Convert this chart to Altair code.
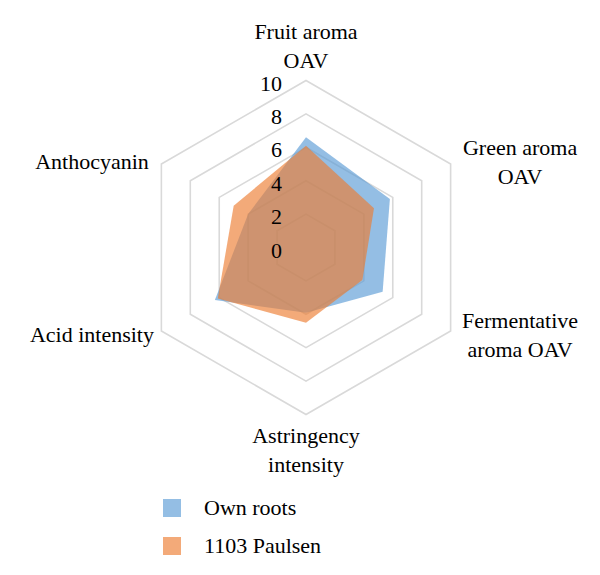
import math
import altair as alt
import pandas as pd

# ---- data ----
categories = ["Fruit aroma\nOAV", "Green aroma\nOAV", "Fermentative\naroma OAV",
              "Astringency\nintensity", "Acid intensity", "Anthocyanin"]
own_roots = [6.6, 5.8, 5.3, 3.9, 6.3, 4.0]
paulsen_1103 = [6.1, 4.7, 3.9, 4.5, 6.1, 5.0]
series_names = ["Own roots", "1103 Paulsen"]
tick_values = [0, 2, 4, 6, 8, 10]

# ---- layout / style ----
FONT = "Liberation Serif"
FS = 22
LH = 29
W, H = 584, 559
CX, CY = 298, 239.5     # center in plot pixels
K = 16.7                 # pixels per unit
xdom = [-CX / K, (W - CX) / K]
ydom = [-(H - CY) / K, CY / K]
N = len(categories)
STEP = 2 * math.pi / N
colors = ["#5B9BD5", "#ED7D31"]

rows = []
for name, vals in zip(series_names, [own_roots, paulsen_1103]):
    for i, v in enumerate(vals):
        rows.append({"series": name, "idx": i, "value": v})
series_df = pd.DataFrame(rows)

grid_df = pd.DataFrame([{"ring": t, "idx": i} for t in tick_values if t > 0 for i in range(N)])
tick_df = pd.DataFrame({"tick": tick_values})
cat_df = pd.DataFrame({"label": categories, "idx": list(range(N))})

xs = alt.Scale(domain=xdom, nice=False, zero=False)
ys = alt.Scale(domain=ydom, nice=False, zero=False)

grid = alt.Chart(grid_df).transform_calculate(
    a=f"datum.idx * {STEP}",
    px="datum.ring * sin(datum.a)",
    py="datum.ring * cos(datum.a)",
).mark_line(interpolate="linear-closed", color="#d9d9d9", strokeWidth=1.6).encode(
    x=alt.X("px:Q", scale=xs, axis=None),
    y=alt.Y("py:Q", scale=ys, axis=None),
    detail="ring:N",
    order="idx:Q",
)

polys = alt.Chart(series_df).transform_calculate(
    a=f"datum.idx * {STEP}",
    px="datum.value * sin(datum.a)",
    py="datum.value * cos(datum.a)",
).mark_line(interpolate="linear-closed", filled=True, fillOpacity=0.65, strokeWidth=0).encode(
    x=alt.X("px:Q", scale=xs, axis=None),
    y=alt.Y("py:Q", scale=ys, axis=None),
    color=alt.Color("series:N", scale=alt.Scale(domain=series_names, range=colors),
                    legend=alt.Legend(title=None, orient="none", legendX=153, legendY=489,
                                      symbolType="square", symbolSize=324, symbolOpacity=0.65,
                                      symbolStrokeWidth=0,
                                      labelFont=FONT, labelFontSize=FS, labelColor="black",
                                      labelOffset=21, rowPadding=16, padding=0)),
    order="idx:Q",
)

ticks = alt.Chart(tick_df).transform_calculate(zero="0").mark_text(
    font=FONT, fontSize=FS, color="black", align="right", baseline="middle", dx=-24, dy=3
).encode(
    x=alt.X("zero:Q", scale=xs, axis=None),
    y=alt.Y("tick:Q", scale=ys, axis=None),
    text="tick:Q",
)

def cat_layer(filt, baseline, dy):
    return alt.Chart(cat_df).transform_filter(filt).transform_calculate(
        a=f"datum.idx * {STEP}",
        lx="14.8 * sin(datum.a)",
        ly="10.4 * cos(datum.a)",
    ).mark_text(font=FONT, fontSize=FS, color="black", align="center",
                baseline=baseline, lineBreak="\n", lineHeight=LH, dy=dy).encode(
        x=alt.X("lx:Q", scale=xs, axis=None),
        y=alt.Y("ly:Q", scale=ys, axis=None),
        text="label:N",
    )

labels_top = cat_layer("datum.idx == 0", "bottom", -LH - 1)
labels_bottom = cat_layer("datum.idx == 3", "top", 5)
labels_right = cat_layer("datum.idx == 1 || datum.idx == 2", "middle", -13)
labels_left = cat_layer("datum.idx == 4 || datum.idx == 5", "middle", 1)

chart = alt.layer(grid, polys, ticks, labels_top, labels_bottom, labels_right, labels_left).properties(
    width=W, height=H, padding=0, autosize=alt.AutoSizeParams(type="none")
).configure_view(strokeWidth=0)

chart.save("out.html", embed_options={"renderer": "svg", "actions": False})
